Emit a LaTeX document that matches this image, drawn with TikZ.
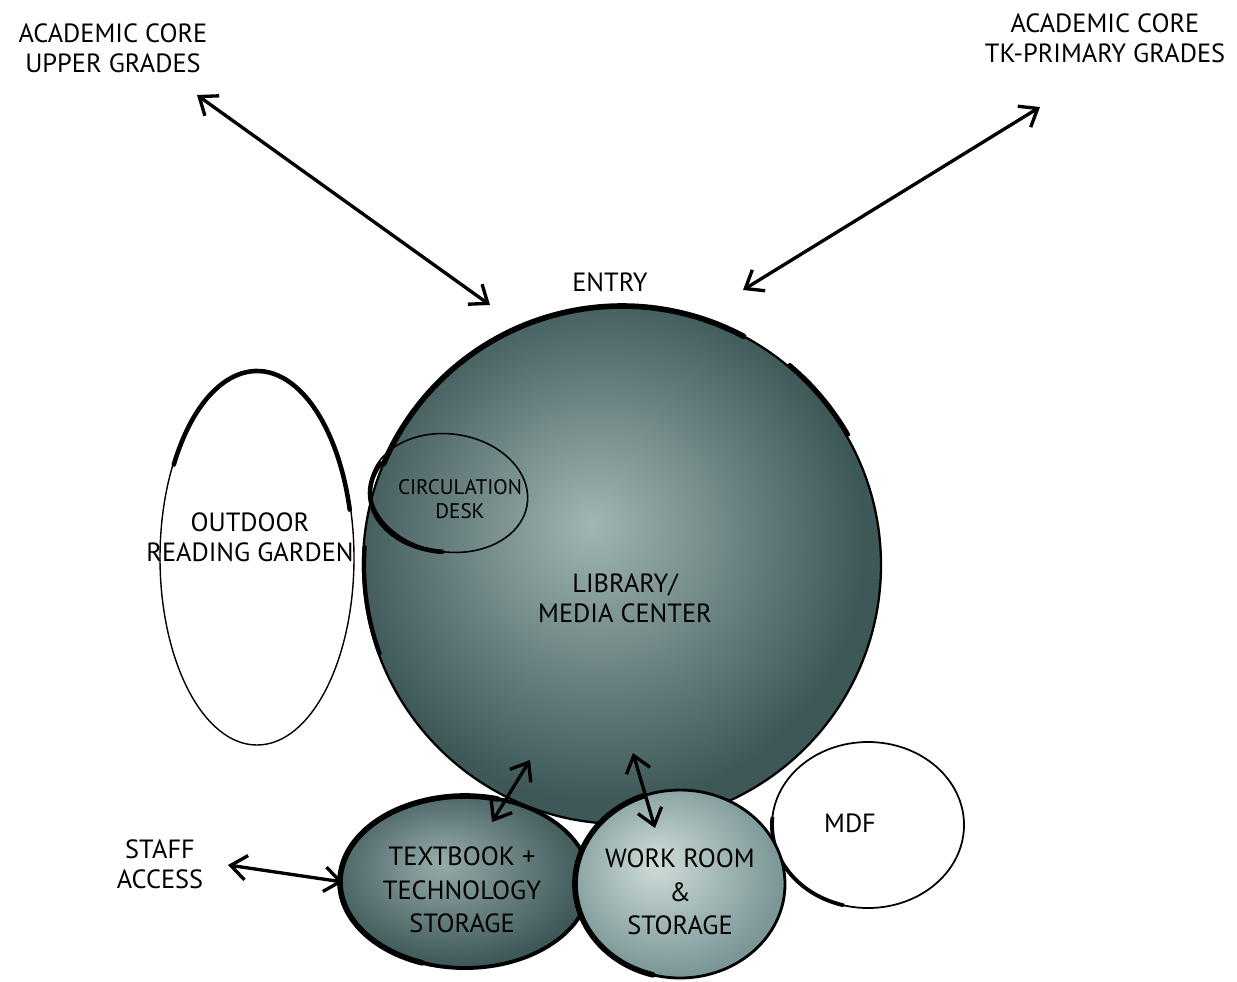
\documentclass[tikz,border=0pt]{standalone}
\usepackage{fontspec}
\setmainfont{PT Sans}
\usetikzlibrary{arrows.meta,shapes.geometric}
\definecolor{dk}{HTML}{3E5858}
\definecolor{lt}{HTML}{A0B5B4}
\definecolor{wlt}{HTML}{CFDDDA}
\definecolor{wdk}{HTML}{7A9696}
\definecolor{tlt}{HTML}{95ACAB}
\pgfdeclareradialshading{libshade}{\pgfpoint{-3bp}{4bp}}{color(0bp)=(lt); color(25bp)=(dk); color(50bp)=(dk)}
\pgfdeclareradialshading{txtshade}{\pgfpoint{-5bp}{6bp}}{color(0bp)=(tlt); color(27bp)=(dk); color(50bp)=(dk)}
\pgfdeclareradialshading{wrkshade}{\pgfpoint{-6bp}{6bp}}{color(0bp)=(wlt); color(27bp)=(wdk); color(50bp)=(wdk)}
\tikzset{
  lbl/.style={font=\fontsize{15}{17}\selectfont, align=center, text=black, inner sep=0pt},
  small/.style={font=\fontsize{12}{13.5}\selectfont, align=center, text=black, inner sep=0pt},
  twoway/.style={line width=1.9pt, {Straight Barb[length=9pt,width=14pt,line width=1.9pt]}-{Straight Barb[length=9pt,width=14pt,line width=1.9pt]}},
  rim/.style={line width=1.3pt, black},
  heavy/.style={line width=3.2pt, black, line cap=round},
}
\begin{document}
\begin{tikzpicture}[x=0.02cm,y=-0.02cm]
\useasboundingbox (0,0) rectangle (1237,981);
\fill[white] (0,0) rectangle (1237,981);

% outdoor reading garden
\node[draw, line width=0.8pt, ellipse, minimum width=194*0.02cm, minimum height=374*0.02cm] (garden) at (257,558) {};
\draw[heavy, line width=2.6pt] (257,558) ++(-150:96 and 187) arc (-150:-15:96 and 187);

% library circle
\shade[shading=libshade] (622,565) circle (259);
\node[circle, minimum size=518*0.02cm, inner sep=0pt] (lib) at (622,565) {};
\draw[rim] (622,565) circle (259);
\draw[heavy] (622,565) ++(-157:259) arc (-157:-62:259);
\draw[heavy, line width=2.4pt] (622,565) ++(-50:261) arc (-50:-30:261);
\draw[heavy, line width=2.4pt] (622,565) ++(-200:258) arc (-200:-176:258);

% circulation desk
\node[draw, line width=0.9pt, ellipse, rotate=-8, minimum width=158*0.02cm, minimum height=118*0.02cm] (desk) at (449,493) {};
\draw[heavy, line width=2.6pt] (449,493) ++(-150:79 and 59) arc (-150:-265:79 and 59);

% MDF
\node[draw, line width=1pt, ellipse, fill=white, minimum width=192*0.02cm, minimum height=166*0.02cm] (mdf) at (868,825) {};
\draw[heavy, line width=2.2pt] (868,825) ++(-175:96 and 83) arc (-175:-255:96 and 83);

% textbook
\shade[shading=txtshade] (465,882) ellipse (125 and 86);
\node[ellipse, minimum width=250*0.02cm, minimum height=172*0.02cm] (text) at (465,882) {};
\draw[rim, line width=2.2pt] (465,882) ellipse (125 and 86);
\draw[heavy] (465,882) ++(-75:125 and 86) arc (-75:-250:125 and 86);

% work room
\shade[shading=wrkshade] (680,884) ellipse (105 and 94);
\node[ellipse, minimum width=210*0.02cm, minimum height=188*0.02cm] (work) at (680,884) {};
\draw[rim, line width=1.6pt] (680,884) ellipse (105 and 94);
\draw[heavy] (680,884) ++(-110:105 and 94) arc (-110:-255:105 and 94);

% labels
\node[lbl] (upper) at (113,48) {ACADEMIC CORE\\UPPER GRADES};
\node[lbl] (tk) at (1105,38) {ACADEMIC CORE\\TK-PRIMARY GRADES};
\node[lbl] (entry) at (610,282) {ENTRY};
\node[lbl] at (250,537) {OUTDOOR\\READING GARDEN};
\node[small] at (460,499) {CIRCULATION\\DESK};
\node[lbl] at (625,598) {LIBRARY/\\MEDIA CENTER};
\node[lbl] at (850,823) {MDF};
\node[lbl] (staff) at (160,864) {STAFF\\ACCESS};
\node[lbl, font=\fontsize{15}{19}\selectfont] at (462,890) {TEXTBOOK +\\TECHNOLOGY\\STORAGE};
\node[lbl, font=\fontsize{15}{19}\selectfont] at (680,892) {WORK ROOM\\\&\\STORAGE};

% arrows
\coordinate (a1) at (197,95);
\coordinate (a2) at (490,305);
\coordinate (b1) at (1040,107);
\coordinate (b2) at (743,290);
\coordinate (s1) at (228,865);
\coordinate (s2) at (343,882);
\coordinate (t1) at (530,760);
\coordinate (t2) at (492,822);
\coordinate (w1) at (633,753);
\coordinate (w2) at (655,828);
\draw[twoway] (a1) -- (a2);
\draw[twoway] (b1) -- (b2);
\draw[twoway] (s1) -- (s2);
\draw[twoway] (t1) -- (t2);
\draw[twoway] (w1) -- (w2);
\end{tikzpicture}
\end{document}
